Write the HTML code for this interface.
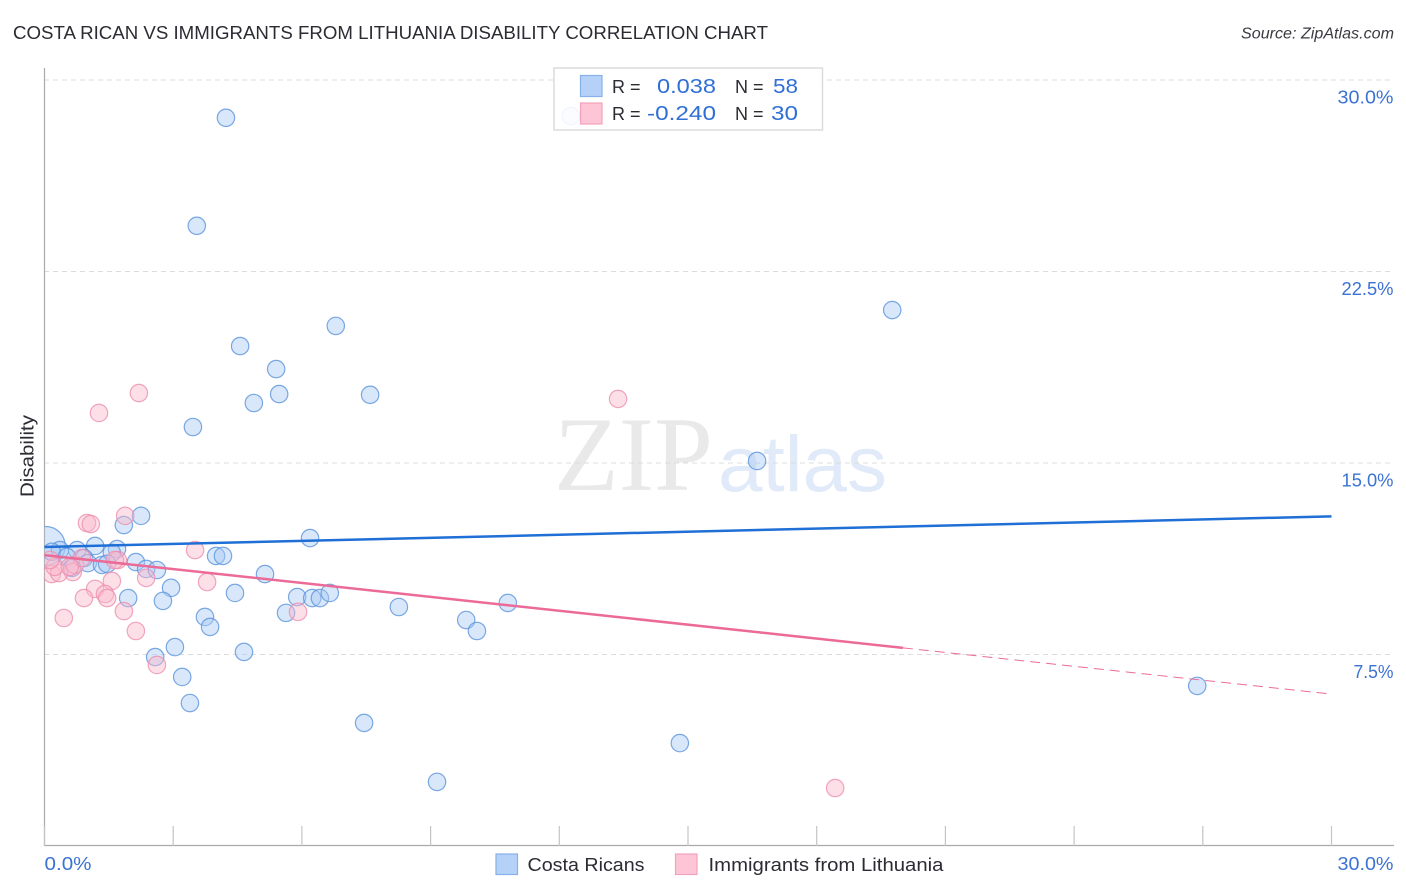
<!DOCTYPE html>
<html lang="en">
<head>
<meta charset="utf-8">
<title>Costa Rican vs Immigrants from Lithuania Disability Correlation Chart</title>
<style>
html,body{margin:0;padding:0;background:#fff;width:1406px;height:892px;overflow:hidden}
svg{display:block;font-family:"Liberation Sans",sans-serif}
</style>
</head>
<body>
<svg id="chart" width="1406" height="892" viewBox="0 0 1406 892" xmlns="http://www.w3.org/2000/svg">
  <defs>
    <clipPath id="plot-clip"><rect x="44.500" y="60" width="1350" height="786"/></clipPath>
  </defs>
  <rect x="0" y="0" width="1406" height="892" fill="#ffffff"/>
  <text x="13" y="39" font-size="18.5" fill="#2b2b33" textLength="755" lengthAdjust="spacingAndGlyphs">COSTA RICAN VS IMMIGRANTS FROM LITHUANIA DISABILITY CORRELATION CHART</text>
  <text x="1241" y="38.500" font-size="15.5" font-style="italic" fill="#3a3a42" textLength="153" lengthAdjust="spacingAndGlyphs">Source: ZipAtlas.com</text>
  <g>
    <text x="554" y="490" font-family="'Liberation Serif',serif" font-size="106" fill="#e9e9e9" textLength="159" lengthAdjust="spacingAndGlyphs">ZIP</text>
    <text x="718" y="491" font-size="79" fill="#e1eaf9" textLength="169" lengthAdjust="spacingAndGlyphs">atlas</text>
  </g>
  <g id="grid"></g>
  <g id="axes"></g>
  <g id="blue-points" clip-path="url(#plot-clip)"></g>
  <g id="pink-points" clip-path="url(#plot-clip)"></g>
  <g id="trends"></g>
  <text transform="translate(33.5,456) rotate(-90)" font-size="18.5" fill="#2b2b33" text-anchor="middle" textLength="82" lengthAdjust="spacingAndGlyphs">Disability</text>
  <g>
    <rect x="554" y="68" width="268.500" height="62" fill="#ffffff" fill-opacity="0.88" stroke="#dcdcdc" stroke-width="1.500"/>
    <rect x="580.500" y="75.500" width="21.500" height="21" fill="#b5d1f7" stroke="#86b0e8" stroke-width="1.200"/>
    <rect x="580.500" y="103" width="21.500" height="21" fill="#fdc5d6" stroke="#f2a3bb" stroke-width="1.200"/>
    <text x="612" y="93" font-size="18" fill="#2b2b33">R =</text>
    <text x="657" y="93" font-size="20.500" fill="#2f6fd6" textLength="59" lengthAdjust="spacingAndGlyphs">0.038</text>
    <text x="735" y="93" font-size="18" fill="#2b2b33">N =</text>
    <text x="773" y="93" font-size="20.500" fill="#2f6fd6" textLength="25" lengthAdjust="spacingAndGlyphs">58</text>
    <text x="612" y="120" font-size="18" fill="#2b2b33">R =</text>
    <text x="647" y="120" font-size="20.500" fill="#2f6fd6" textLength="69" lengthAdjust="spacingAndGlyphs">-0.240</text>
    <text x="735" y="120" font-size="18" fill="#2b2b33">N =</text>
    <text x="771" y="120" font-size="20.500" fill="#2f6fd6" textLength="27" lengthAdjust="spacingAndGlyphs">30</text>
  </g>
  <g>
    <rect x="496" y="854" width="21.500" height="20.500" fill="#b5d1f7" stroke="#86b0e8" stroke-width="1.200"/>
    <text x="527.500" y="871" font-size="18.500" fill="#2b2b33" textLength="117" lengthAdjust="spacingAndGlyphs">Costa Ricans</text>
    <rect x="675.500" y="854" width="21.500" height="20.500" fill="#fdc5d6" stroke="#f2a3bb" stroke-width="1.200"/>
    <text x="708.500" y="871" font-size="18.500" fill="#2b2b33" textLength="235" lengthAdjust="spacingAndGlyphs">Immigrants from Lithuania</text>
  </g>
</svg>
<script>
const yTickValues = [7.5, 15, 22.5, 30];
const yTickLabels = ['7.5%', '15.0%', '22.5%', '30.0%'];
const xTickValues = [0, 3, 6, 9, 12, 15, 18, 21, 24, 27, 30];
const xEndValues = [0, 30];
const xEndLabels = ['0.0%', '30.0%'];

const blueX = [4.23,3.55,19.76,6.79,4.56,5.40,5.47,7.59,4.88,3.46,16.61,2.25,1.85,6.19,1.18,1.69,0.03,0.36,0.17,0.76,0.52,0.92,1.57,1.01,1.34,1.46,2.13,2.37,2.62,4.00,4.16,0.64,5.14,2.95,4.44,1.95,2.76,5.89,6.24,6.42,6.65,8.26,10.80,3.74,3.86,5.63,9.83,10.08,3.04,2.58,4.65,3.21,3.39,7.45,14.81,9.15,26.87,12.27];
const blueY = [28.52,24.29,20.99,20.37,19.58,18.68,17.70,17.67,17.35,16.41,15.08,12.93,12.57,12.06,11.75,11.63,11.75,11.59,11.52,11.59,11.32,11.28,11.48,11.08,11.01,11.05,11.12,10.85,10.81,11.36,11.36,10.89,10.65,10.11,9.91,9.71,9.60,9.75,9.71,9.71,9.91,9.36,9.52,8.97,8.58,9.13,8.85,8.42,7.79,7.40,7.60,6.62,5.60,4.82,4.03,2.51,6.27,28.59];
const blueWeight = [1,1,1,1,1,1,1,1,1,1,1,1,1,1,1,1,5,1,1,1,1,1,1,1,1,1,1,1,1,1,1,1,1,1,1,1,1,1,1,1,1,1,1,1,1,1,1,1,1,1,1,1,1,1,1,1,1,1];

const pinkX = [1.88,0.99,1.08,3.51,3.79,1.57,1.18,1.41,1.46,0.92,1.85,0.45,2.13,2.62,5.91,2.20,1.27,13.37,18.43,2.37,1.71,1.64,0.66,0.17,0.34,0.24,0.71,0.87,0.59,0.13];
const pinkY = [12.93,12.65,12.61,11.59,10.34,10.38,10.07,9.87,9.71,9.71,9.20,8.93,8.42,7.09,9.17,17.74,16.96,17.51,2.27,10.50,11.20,11.20,10.73,10.65,10.69,10.93,11.01,11.28,10.93,11.20];

const blueTrendX = [0, 30];
const blueTrendY = [11.71, 12.91];
const pinkTrendSolidX = [0, 20.01];
const pinkTrendSolidY = [11.39, 7.76];
const pinkTrendDashX = [20.01, 30];
const pinkTrendDashY = [7.76, 5.95];

const NS = 'http://www.w3.org/2000/svg';
function xScale(v) { return 44.5 + v * 42.9; }
function yScale(v) { return 846 - v * 25.533; }
function rScale(w) { return 8.7 * Math.sqrt(w); }
function labelWidth(text) {
  if (text === '30.0%') return 56;
  if (text === '0.0%') return 47;
  if (text === '7.5%') return 40;
  return 52;
}
function make(tag, attrs, parent) {
  const el = document.createElementNS(NS, tag);
  for (const k in attrs) el.setAttribute(k, attrs[k]);
  parent.appendChild(el);
  return el;
}

const grid = document.getElementById('grid');
const axes = document.getElementById('axes');
yTickValues.forEach(function (v, i) {
  const line = make('line', {x1: 44, x2: 1394, y1: yScale(v), y2: yScale(v), stroke: '#dcdcdc', 'stroke-width': 1, 'stroke-dasharray': '5 4'}, grid);
  
  
  const w = labelWidth(yTickLabels[i]);
  const label = make('text', {x: 1393.5 - w, y: yScale(v) + 23.5, 'font-size': 18.5, fill: '#3b72d3', textLength: w, lengthAdjust: 'spacingAndGlyphs'}, axes);
  label.textContent = yTickLabels[i];
  
  
});

const yAxisLine = make('line', {x1: 44.5, x2: 44.5, y1: 68, y2: 846, stroke: '#aaaaaa', 'stroke-width': 1.2}, axes);


const xAxisLine = make('line', {x1: 44, x2: 1394, y1: 845.5, y2: 845.5, stroke: '#aaaaaa', 'stroke-width': 1.2}, axes);



xTickValues.forEach(function (v) {
  const tick = make('line', {x1: xScale(v), x2: xScale(v), y1: 826, y2: 846, stroke: '#c4c4c4', 'stroke-width': 1.2}, axes);
  
  
});

xEndValues.forEach(function (v, i) {
  const isLast = i === xEndValues.length - 1;
  const w = labelWidth(xEndLabels[i]);
  const label = make('text', {x: isLast ? 1393.5 - w : xScale(v), y: 870, 'font-size': 18.5, fill: '#3b72d3', textLength: w, lengthAdjust: 'spacingAndGlyphs'}, axes);
  label.textContent = xEndLabels[i];
  
  
});

const blueGroup = document.getElementById('blue-points');
blueX.forEach(function (v, i) {
  const c = make('circle', {cx: xScale(v), cy: yScale(blueY[i]), r: rScale(blueWeight[i]), fill: '#a9c9f3', 'fill-opacity': 0.45, stroke: '#5b93dd', 'stroke-opacity': 0.8, 'stroke-width': 1.2}, blueGroup);
  
  
});

const pinkGroup = document.getElementById('pink-points');
pinkX.forEach(function (v, i) {
  const c = make('circle', {cx: xScale(v), cy: yScale(pinkY[i]), r: 8.7, fill: '#fbb8cd', 'fill-opacity': 0.45, stroke: '#ee8fae', 'stroke-opacity': 0.8, 'stroke-width': 1.2}, pinkGroup);
  
  
});

const trends = document.getElementById('trends');
const blueTrend = make('line', {x1: xScale(blueTrendX[0]), y1: yScale(blueTrendY[0]), x2: xScale(blueTrendX[1]), y2: yScale(blueTrendY[1]), stroke: '#1f6fd6', 'stroke-width': 2.5}, trends);


const pinkSolid = make('line', {x1: xScale(pinkTrendSolidX[0]), y1: yScale(pinkTrendSolidY[0]), x2: xScale(pinkTrendSolidX[1]), y2: yScale(pinkTrendSolidY[1]), stroke: '#ec6a98', 'stroke-width': 2.5}, trends);


const pinkDash = make('line', {x1: xScale(pinkTrendDashX[0]), y1: yScale(pinkTrendDashY[0]), x2: xScale(pinkTrendDashX[1]), y2: yScale(pinkTrendDashY[1]), stroke: '#ec6a98', 'stroke-width': 1, 'stroke-dasharray': '10 6'}, trends);


</script>
</body>
</html>
